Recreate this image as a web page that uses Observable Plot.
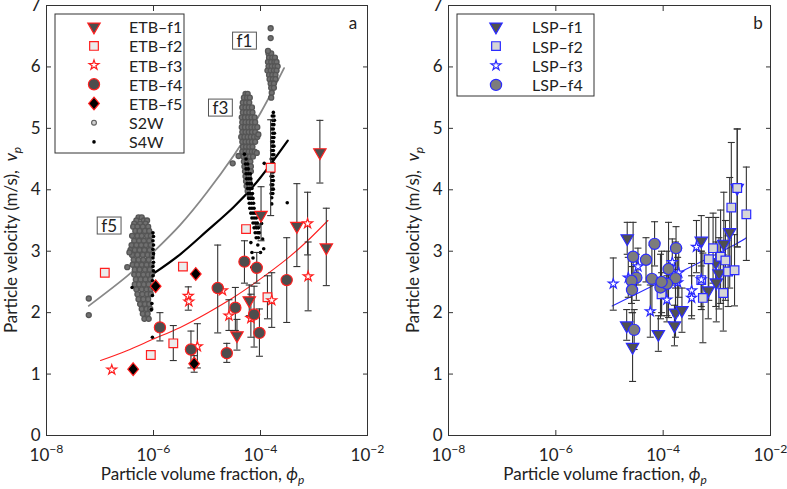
<!DOCTYPE html>
<html><head><meta charset="utf-8">
<script src="https://cdn.jsdelivr.net/npm/d3@7"></script>
<script src="https://cdn.jsdelivr.net/npm/@observablehq/plot@0.6"></script>
<style>
body{margin:0;background:#fff;}
#wrap{position:relative;width:787px;height:489px;font-family:Lato,sans-serif;}
#wrap svg{position:absolute;top:0;}
</style></head><body><div id="wrap"></div>
<script>
const xTicks = [1e-8, 1e-6, 1e-4, 1e-2];
const yTicks = [0, 1, 2, 3, 4, 5, 6, 7];

// [log10(phi), v, v_low, v_high]
const etbF1 = [[-3.99,3.59,3.17,4.05],[-3.32,3.41,2.75,4.10],[-2.89,4.61,4.11,5.13],[-2.77,3.06,2.44,3.70],[-4.21,2.20,1.95,2.45],[-4.44,1.63,1.39,1.89]];
const etbF2 = [[-3.81,4.36,3.58,5.14],[-4.27,3.36,null,null],[-3.87,2.25,1.90,2.60],[-6.91,2.65,null,null],[-5.45,2.75,null,null],[-5.63,1.50,1.22,1.79],[-6.05,1.31,null,null]];
const etbF3 = [[-3.12,3.45,2.94,3.96],[-3.11,2.59,2.03,3.15],[-4.71,2.36,null,null],[-3.79,2.20,1.76,2.65],[-4.18,1.91,1.60,2.30],[-4.59,1.95,1.71,2.21],[-5.35,2.27,2.04,2.42],[-5.34,2.18,null,null],[-5.18,1.45,1.10,1.82],[-6.78,1.07,null,null]];
const etbF4 = [[-4.30,2.83,2.48,3.17],[-4.07,2.73,2.48,2.98],[-4.80,2.40,1.67,3.10],[-3.51,2.53,1.84,3.22],[-4.12,1.97,1.44,2.43],[-4.02,1.67,1.29,2.06],[-4.47,2.08,1.71,2.41],[-4.63,1.34,1.19,1.50],[-5.88,1.76,1.54,2.00],[-5.30,1.40,1.10,1.70]];
const etbF5 = [[-5.21,2.63,null,null],[-5.96,2.43,null,null],[-5.24,1.17,1.03,1.30],[-6.38,1.08,null,null]];

const lspF1 = [[-4.67,3.21,2.95,3.47],[-4.68,1.79,1.55,2.05],[-4.57,1.44,0.88,2.00],[-4.09,1.65,1.37,1.95],[-3.77,2.00,1.60,2.40],[-3.65,2.04,1.68,2.40],[-3.79,1.79,1.46,2.12],[-3.29,3.17,2.76,3.58],[-3.16,2.36,1.90,2.82],[-3.02,2.82,2.10,3.55],[-2.87,3.12,2.30,3.96],[-2.96,2.64,2.06,3.22],[-3.01,2.49,1.85,3.15],[-2.76,3.31,2.40,4.20],[-2.62,4.03,3.07,4.99]];
const lspF2 = [[-4.03,2.30,1.95,2.65],[-3.26,2.24,1.51,2.97],[-3.29,2.53,2.05,3.00],[-3.15,2.87,2.20,3.55],[-3.07,3.05,2.48,3.62],[-2.93,2.91,2.15,3.67],[-2.84,2.85,2.20,3.50],[-2.79,2.67,2.10,3.25],[-2.67,2.69,2.11,3.27],[-2.88,2.32,1.70,2.94],[-2.73,3.71,2.65,4.77],[-2.62,4.03,3.07,4.99],[-2.45,3.60,2.85,4.37]];
const lspF3 = [[-4.93,2.47,2.04,2.89],[-4.47,2.75,2.45,3.05],[-4.65,2.57,2.25,2.90],[-4.24,2.02,1.60,2.45],[-3.71,2.65,2.25,3.05],[-3.93,2.21,1.85,2.60],[-3.83,2.82,2.45,3.20],[-3.38,3.07,2.65,3.50],[-3.47,2.36,1.95,2.80],[-3.47,2.24,1.90,2.60],[-3.29,2.54,2.10,3.00],[-3.73,2.49,2.10,2.90]];
const lspF4 = [[-4.56,2.91,2.35,3.47],[-4.32,2.86,2.50,3.22],[-4.16,3.12,2.76,3.48],[-4.50,2.57,2.20,2.95],[-4.59,2.52,2.15,2.90],[-4.58,2.37,2.00,2.75],[-4.21,2.55,2.00,3.10],[-4.54,1.72,1.40,2.05],[-4.05,2.41,1.90,2.95],[-3.90,2.71,1.92,3.47],[-3.76,3.05,2.70,3.40],[-3.77,2.56,1.95,3.15],[-3.93,2.47,1.95,3.00],[-4.03,2.50,2.00,3.00]];

// S2W / S4W samples: [v, [log10(phi) ...]]
const s2wF5 = [[3.55,[-6.28,-6.22]],[3.50,[-6.32,-6.18,-6.12]],[3.45,[-6.36,-6.25,-6.15]],[3.40,[-6.38,-6.30,-6.20,-6.10]],[3.33,[-6.34,-6.26,-6.16,-6.08]],[3.25,[-6.40,-6.30,-6.22,-6.12,-6.05]],[3.17,[-6.36,-6.27,-6.18,-6.08]],[3.10,[-6.41,-6.32,-6.23,-6.14,-6.05]],[3.02,[-6.43,-6.35,-6.26,-6.17,-6.07]],[2.94,[-6.40,-6.30,-6.20,-6.11,-6.03]],[2.86,[-6.37,-6.28,-6.19,-6.09]],[2.78,[-6.39,-6.31,-6.22,-6.13,-6.04]],[2.70,[-6.35,-6.26,-6.16,-6.07]],[2.62,[-6.36,-6.28,-6.19,-6.10,-6.03]],[2.54,[-6.33,-6.24,-6.15,-6.06]],[2.46,[-6.35,-6.27,-6.18,-6.09]],[2.38,[-6.32,-6.22,-6.13,-6.05]],[2.30,[-6.30,-6.21,-6.12,-6.05]],[2.22,[-6.28,-6.19,-6.10]],[2.14,[-6.25,-6.16,-6.08]],[2.06,[-6.22,-6.13,-6.06]],[1.98,[-6.20,-6.11]],[1.90,[-6.17,-6.09]]];
const s2wF3 = [[5.56,[-4.28,-4.24]],[5.50,[-4.31,-4.25,-4.20]],[5.42,[-4.33,-4.27,-4.21]],[5.34,[-4.34,-4.28,-4.22,-4.16]],[5.26,[-4.33,-4.27,-4.21,-4.15]],[5.18,[-4.35,-4.29,-4.23,-4.17,-4.11]],[5.10,[-4.34,-4.28,-4.22,-4.16,-4.10]],[5.02,[-4.35,-4.29,-4.23,-4.17,-4.11,-4.06]],[4.94,[-4.34,-4.28,-4.22,-4.16,-4.10]],[4.86,[-4.36,-4.30,-4.24,-4.18,-4.12,-4.06]],[4.78,[-4.34,-4.28,-4.22,-4.16,-4.10]],[4.70,[-4.33,-4.27,-4.21,-4.15]],[4.62,[-4.34,-4.28,-4.22,-4.16,-4.11]],[4.54,[-4.32,-4.26,-4.20,-4.14]],[4.46,[-4.31,-4.25,-4.19]],[4.38,[-4.30,-4.24,-4.18]],[4.30,[-4.29,-4.23,-4.18]],[4.22,[-4.28,-4.22]],[4.14,[-4.27,-4.21]],[4.06,[-4.26,-4.21]],[3.98,[-4.24]]];
const s2wF1 = [[6.22,[-3.85,-3.80]],[6.15,[-3.84,-3.78,-3.73]],[6.08,[-3.86,-3.80,-3.74,-3.70]],[6.01,[-3.85,-3.79,-3.73,-3.68]],[5.94,[-3.87,-3.81,-3.75,-3.70]],[5.87,[-3.84,-3.78,-3.72]],[5.80,[-3.83,-3.77,-3.72]],[5.73,[-3.81,-3.75]],[5.66,[-3.80,-3.75]],[5.58,[-3.79]],[5.50,[-3.80]]];
const s2wOther = [[-7.21,2.23],[-7.21,1.96],[-6.49,2.74],[-6.45,2.98],[-4.52,4.43],[-4.41,4.55],[-3.81,6.63],[-3.81,6.47],[-3.86,6.26],[-4.04,4.90],[-4.07,4.60],[-4.20,3.90],[-4.05,3.41]];
const s4wF5 = [[3.30,[-6.01]],[3.24,[-6.00]],[3.17,[-6.01]],[3.10,[-6.00]],[3.03,[-6.01]],[2.96,[-6.00]],[2.89,[-6.01]],[2.82,[-6.00]],[2.75,[-6.01]],[2.68,[-6.00]],[2.60,[-6.01]],[2.52,[-6.02]],[2.40,[-6.01]],[2.28,[-6.02]],[2.15,[-6.03]],[2.05,[-6.04]]];
const s4wF3 = [[4.50,[-4.27]],[4.42,[-4.28,-4.24]],[4.34,[-4.27,-4.23]],[4.26,[-4.27,-4.23,-4.19]],[4.18,[-4.26,-4.22,-4.18]],[4.10,[-4.25,-4.21,-4.17]],[4.02,[-4.24,-4.20,-4.16]],[3.94,[-4.23,-4.19,-4.15]],[3.86,[-4.22,-4.18,-4.14]],[3.78,[-4.21,-4.17,-4.13]],[3.70,[-4.20,-4.16,-4.12]],[3.62,[-4.18,-4.14,-4.10]],[3.54,[-4.16,-4.12,-4.08]],[3.46,[-4.14,-4.10,-4.06]],[3.38,[-4.12,-4.08,-4.04]],[3.30,[-4.10,-4.06,-4.03]],[3.22,[-4.08,-4.04]]];
const s4wF1 = [[5.26,[-3.76]],[5.20,[-3.78,-3.75]],[5.13,[-3.77,-3.74]],[5.06,[-3.78,-3.75]],[4.99,[-3.79,-3.76]],[4.92,[-3.77,-3.74]],[4.85,[-3.78,-3.75]],[4.78,[-3.79,-3.76]],[4.71,[-3.78,-3.75]],[4.64,[-3.79,-3.76]],[4.57,[-3.78,-3.75]],[4.50,[-3.80,-3.76]],[4.43,[-3.79,-3.76]],[4.36,[-3.80,-3.77]],[4.29,[-3.79,-3.76]],[4.22,[-3.80,-3.77]],[4.15,[-3.79,-3.76]],[4.08,[-3.80,-3.77]],[4.01,[-3.79,-3.76]],[3.94,[-3.80,-3.77]],[3.87,[-3.79]],[3.77,[-3.79]]];
const s4wOther = [[-4.18,3.14],[-4.05,3.10],[-3.94,3.04],[-4.16,2.98],[-4.14,2.89],[-4.16,2.74],[-3.93,4.43],[-3.50,3.79],[-3.98,3.45],[-3.96,3.20],[-4.00,2.98],[-6.02,1.60],[-6.40,2.41],[-4.30,4.58],[-4.02,3.30]];

// fit curves [log10(phi), v]
const fitS2W = [[-7.21,2.11],[-6.5,2.59],[-6,2.99],[-5.5,3.43],[-5,3.96],[-4.5,4.56],[-4,5.25],[-3.56,5.98]];
const fitS4W = [[-6.01,2.63],[-5.5,2.95],[-5,3.33],[-4.5,3.72],[-4,4.2],[-3.49,4.8]];
const fitETB = [[-6.99,1.22],[-6.5,1.38],[-6,1.57],[-5.5,1.76],[-5,1.99],[-4.5,2.25],[-4,2.55],[-3.5,2.88],[-3.12,3.17],[-2.74,3.5]];
const fitLSP = [[-4.95,2.11],[-2.9,3.0],[-2.45,3.22]];

// annotations [label, log10(phi), v]
const annotsA = [["f1",-4.29,6.42],["f3",-4.74,5.33],["f5",-6.82,3.41]];

const toPts = a => a.map(([e,v,lo,hi]) => ({phi: 10 ** e, v, lo, hi}));
const fromRows = rows => rows.flatMap(([v, xs]) => xs.map(e => ({phi: 10 ** e, v})));
const fromPairs = a => a.map(([e,v]) => ({phi: 10 ** e, v}));

const FONT = "Lato, sans-serif";
const capSym = {draw(ctx){ ctx.moveTo(-3.5,0); ctx.lineTo(3.5,0); }};
const diamondSym = {draw(ctx,size){ const k=Math.sqrt(size/Math.PI); ctx.moveTo(0,-1.25*k); ctx.lineTo(1.05*k,0); ctx.lineTo(0,1.25*k); ctx.lineTo(-1.05*k,0); ctx.closePath(); }};
const d3sym = {triangle: d3.symbolTriangle, square: d3.symbolSquare, star: d3.symbolStar, circle: d3.symbolCircle};

const RED = "#ff1f1f", BLUE = "#2a2aff";
const etbSeries = [
  {label:"ETB\u2013f1", data:etbF1, symbol:"triangle", rotate:180, r:4.6, fill:"#4d4d4d"},
  {label:"ETB\u2013f2", data:etbF2, symbol:"square", r:4.9, fill:"#ececec"},
  {label:"ETB\u2013f3", data:etbF3, symbol:"star", r:3.1, fill:"#ffffff"},
  {label:"ETB\u2013f4", data:etbF4, symbol:"circle", r:5.6, fill:"#4d4d4d"},
  {label:"ETB\u2013f5", data:etbF5, symbol:diamondSym, r:5.1, fill:"#000000"}
];
const lspSeries = [
  {label:"LSP\u2013f1", data:lspF1, symbol:"triangle", rotate:180, r:4.6, fill:"#505050"},
  {label:"LSP\u2013f2", data:lspF2, symbol:"square", r:4.9, fill:"#d6d6d6"},
  {label:"LSP\u2013f3", data:lspF3, symbol:"star", r:3.1, fill:"#ffffff"},
  {label:"LSP\u2013f4", data:lspF4, symbol:"circle", r:5.6, fill:"#7c7c7c"}
];

const s2wPts = [...fromRows(s2wF5), ...fromRows(s2wF3), ...fromRows(s2wF1), ...fromPairs(s2wOther)];
const s4wPts = [...fromRows(s4wF5), ...fromRows(s4wF3), ...fromRows(s4wF1), ...fromPairs(s4wOther)];
const S2W = {r:2.5, stroke:"#555555", fill:"#707070", sw:1.3};
const S4W = {r:1.8, fill:"#000"};

function panel(cfg){
  const errData = cfg.series.flatMap(s => toPts(s.data).filter(p => p.lo != null));
  const marks = [
    ...cfg.under,
    Plot.ruleX(errData, {x:"phi", y1:"lo", y2:"hi", stroke:"#333", strokeWidth:1.1}),
    Plot.dot(errData, {x:"phi", y:"lo", symbol:capSym, stroke:"#333", strokeWidth:1.1, fill:"none"}),
    Plot.dot(errData, {x:"phi", y:"hi", symbol:capSym, stroke:"#333", strokeWidth:1.1, fill:"none"}),
    ...cfg.series.map(s => Plot.dot(toPts(s.data), {x:"phi", y:"v", symbol:s.symbol, r:s.r, rotate:s.rotate || 0, fill:s.fill, stroke:cfg.edge, strokeWidth:1.2})),
    Plot.frame({stroke:"#333"}),
    Plot.axisX(xTicks, {anchor:"bottom", tickSize:0, tickPadding:13, tickFormat:d => "10^" + Math.round(Math.log10(d)), label:null, fontSize:17}),
    Plot.axisX(xTicks, {anchor:"bottom", tickSize:-5, tickFormat:() => "", label:null, stroke:"#333"}),
    Plot.axisX(xTicks, {anchor:"top", tickSize:-5, tickFormat:() => "", label:null, stroke:"#333"}),
    Plot.axisY(yTicks, {anchor:"left", tickSize:0, tickPadding:6, tickFormat:d => String(d), label:null, fontSize:17}),
    Plot.axisY(yTicks, {anchor:"left", tickSize:-5, tickFormat:() => "", label:null, stroke:"#333"}),
    Plot.axisY(yTicks, {anchor:"right", tickSize:-5, tickFormat:() => "", label:null, stroke:"#333"})
  ];
  const svg = Plot.plot({
    width: cfg.width, height: 489,
    marginLeft: cfg.ml, marginRight: cfg.mr, marginTop: 5, marginBottom: 54,
    x: {type:"log", domain:[1e-8, 1e-2]},
    y: {domain:[0, 7]},
    style: {fontFamily: FONT, fontSize: "17px", color: "#222", background: "white", overflow: "visible"},
    marks
  });
  svg.style.left = cfg.left + "px";
  document.getElementById("wrap").appendChild(svg);
  finish(svg, cfg);
  return svg;
}

function finish(svg, cfg){
  const s = d3.select(svg);
  s.selectAll('g[aria-label="x-axis tick label"] text').each(function(){
    const t = d3.select(this); const e = t.text().split("^")[1];
    if (e === undefined) return;
    t.text(null);
    t.append("tspan").text("10");
    t.append("tspan").attr("dy","-0.62em").attr("font-size","0.72em").text(e.replace("-","\u2212"));
  });
  const cx = (cfg.ml + cfg.width - cfg.mr) / 2 - 4;
  const xl = s.append("text").attr("x", cx).attr("y", 480).attr("text-anchor","middle")
    .attr("font-size", 17).attr("fill","#222").attr("font-family", FONT);
  xl.append("tspan").text("Particle volume fraction, ");
  xl.append("tspan").attr("font-style","italic").text("\u03d5");
  xl.append("tspan").attr("dy","0.35em").attr("font-size","0.7em").attr("font-style","italic").text("p");
  const yl = s.append("text").attr("transform", `translate(${cfg.ml - 29},240) rotate(-90)`)
    .attr("text-anchor","middle").attr("font-size",17).attr("fill","#222").attr("font-family", FONT);
  yl.append("tspan").text("Particle velocity (m/s),  ");
  yl.append("tspan").attr("font-style","italic").text("v");
  yl.append("tspan").attr("dy","0.35em").attr("font-size","0.7em").attr("font-style","italic").text("p");
  // panel letter
  s.append("text").attr("x", cfg.letterX).attr("y", 22).attr("text-anchor","middle").attr("dominant-baseline","central")
    .attr("font-size",17).attr("fill","#222").text(cfg.letter);
  // annotations
  const fx = svg.scale("x"), fy = svg.scale("y");
  (cfg.annots || []).forEach(([lab, e, v]) => {
    const x = fx.apply(10 ** e), y = fy.apply(v);
    const t = s.append("text").attr("x", x).attr("y", y).attr("text-anchor","middle").attr("dominant-baseline","central")
      .attr("font-size",17).attr("fill","#222").text(lab);
    const b = t.node().getBBox();
    s.insert("rect", () => t.node()).attr("x", b.x - 4).attr("y", y - 8.5).attr("width", b.width + 8).attr("height", 17)
      .attr("fill","white").attr("stroke","#555").attr("stroke-width",1);
  });
  // legend
  const L = cfg.legend;
  const g = s.append("g");
  g.append("rect").attr("x",L.x).attr("y",L.y).attr("width",L.w).attr("height",L.h).attr("fill","white").attr("stroke","#333");
  L.items.forEach((it, i) => {
    const y = L.y0 + i * L.dy;
    const type = typeof it.symbol === "string" ? d3sym[it.symbol] : it.symbol;
    g.append("path").attr("d", d3.symbol(type, Math.PI * it.r * it.r)())
      .attr("transform", `translate(${L.mx},${y}) rotate(${it.rotate || 0})`)
      .attr("fill", it.fill).attr("stroke", it.stroke || "none").attr("stroke-width", it.sw || 1.2);
    g.append("text").attr("x", L.tx).attr("y", y).attr("text-anchor","start").attr("dominant-baseline","central")
      .attr("font-size",16).attr("fill","#222").text(it.label);
  });
}

const line = (pts, stroke, w) => Plot.line(fromPairs(pts), {x:"phi", y:"v", stroke, strokeWidth:w, curve:"natural"});

panel({
  left: 0, width: 393, ml: 46, mr: 26, edge: RED, series: etbSeries,
  under: [
    line(fitETB, RED, 1.1),
    line(fitS2W, "#888", 1.8),
    line(fitS4W, "#000", 2.2),
    Plot.dot(s2wPts, {x:"phi", y:"v", r:S2W.r, stroke:S2W.stroke, fill:S2W.fill, strokeWidth:S2W.sw}),
    Plot.dot(s4wPts, {x:"phi", y:"v", r:S4W.r, fill:S4W.fill})
  ],
  letter: "a", letterX: 353, annots: annotsA,
  legend: {x:55, y:14, w:129, h:139, mx:94, tx:129, y0:26.7, dy:19.2,
    items: [...etbSeries.map(s => ({...s, stroke:RED})),
      {label:"S2W", symbol:"circle", r:2.4, fill:"#d0d0d0", stroke:"#5a5a5a", sw:1.1},
      {label:"S4W", symbol:"circle", r:S4W.r, fill:S4W.fill}]}
});

panel({
  left: 393, width: 394, ml: 55, mr: 17, edge: BLUE, series: lspSeries,
  under: [ line(fitLSP, BLUE, 1.1) ],
  letter: "b", letterX: 365, annots: [],
  legend: {x:64, y:14, w:137, h:82, mx:103, tx:139, y0:26.7, dy:19.4,
    items: lspSeries.map(s => ({...s, stroke:BLUE}))}
});
</script>
</body></html>
